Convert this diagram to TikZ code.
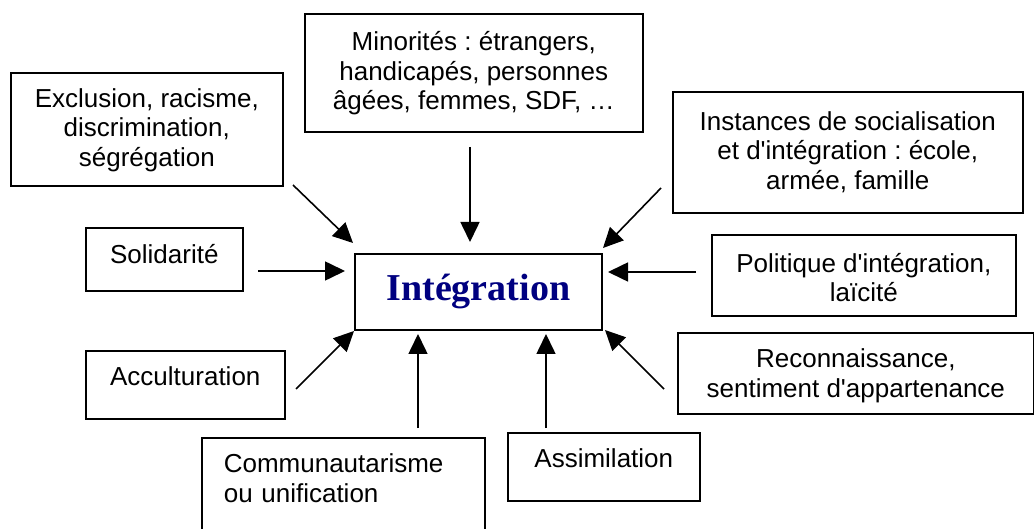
\documentclass[tikz,border=0pt]{standalone}
\usepackage{fontspec}
\setmainfont{Liberation Sans}
\newfontfamily\titlefont{Liberation Serif}
\usetikzlibrary{arrows.meta}
\frenchspacing
\definecolor{titleblue}{RGB}{0,0,128}
\tikzstyle{box} = [rectangle, draw=black, line width=1.6pt, anchor=north west,
inner xsep=0pt, inner ysep=0pt, align=center, font=\fontsize{26}{29.5}\selectfont]
\tikzstyle{title} = [box, text=titleblue, font=\titlefont\bfseries\fontsize{38}{40}\selectfont]
\tikzstyle{pointer} = [->, line width=1.6pt]
\tikzset{>={Triangle[length=20pt,width=19pt]}}
\newcommand{\ap}{\textquotesingle}

\begin{document}
\begin{tikzpicture}[x=1pt, y=-1pt]
  \useasboundingbox (0,0) rectangle (1034,529);

  \node[box, minimum width=272pt, text height=93.7pt, text depth=19.3pt] (excl) at (10,72)
    {Exclusion, racisme,\\discrimination,\\ségrégation};
  \node[box, minimum width=338pt, text height=96pt, text depth=22pt] (mino) at (304,13)
    {Minorités : étrangers,\\handicapés, personnes\\âgées, femmes, SDF, …};
  \node[box, minimum width=350pt, text height=97.3pt, text depth=23.7pt] (inst) at (672,91)
    {Instances de socialisation\\et d\ap intégration : école,\\armée, famille};
  \node[box, minimum width=157pt, text height=35.7pt, text depth=27.3pt] (soli) at (85,227) {Solidarité};
  \node[title, minimum width=247pt, text height=46.3pt, text depth=29.7pt] (integ) at (354,253) {Intégration};
  \node[box, minimum width=304pt, text height=67.2pt, text depth=13.8pt] (poli) at (711,234)
    {Politique d\ap intégration,\\laïcité};
  \node[box, minimum width=199pt, text height=35pt, text depth=33pt] (accu) at (85,350) {Acculturation};
  \node[box, minimum width=356pt, text height=64.2pt, text depth=16.8pt] (reco) at (677,332)
    {Reconnaissance,\\sentiment d\ap appartenance};
  \node[box, minimum width=192pt, text height=34.7pt, text depth=33.3pt] (assi) at (507,432) {Assimilation};
  \node[box, align=left, text width=239pt, inner xsep=22pt, text height=34.7pt, text depth=88pt] (comm) at (201,437)
    {Communautarisme\\ou unification};

  % arrow ends (they stop short of the boxes)
  \coordinate (excl-out) at (293,185); \coordinate (excl-in) at (353,243);
  \coordinate (mino-out) at (470,147); \coordinate (mino-in) at (470,242);
  \coordinate (inst-out) at (661,188); \coordinate (inst-in) at (603,248);
  \coordinate (soli-out) at (258,271); \coordinate (soli-in) at (345,271);
  \coordinate (poli-out) at (696,272); \coordinate (poli-in) at (608,272);
  \coordinate (accu-out) at (296,389); \coordinate (accu-in) at (354,331);
  \coordinate (reco-out) at (664,389); \coordinate (reco-in) at (605,330);
  \coordinate (comm-out) at (418,428); \coordinate (comm-in) at (418,334);
  \coordinate (assi-out) at (546,428); \coordinate (assi-in) at (546,334);

  \foreach \a in {excl,mino,inst,soli,poli,accu,reco,comm,assi}
    \draw[pointer] (\a-out) -- (\a-in);
\end{tikzpicture}
\end{document}
